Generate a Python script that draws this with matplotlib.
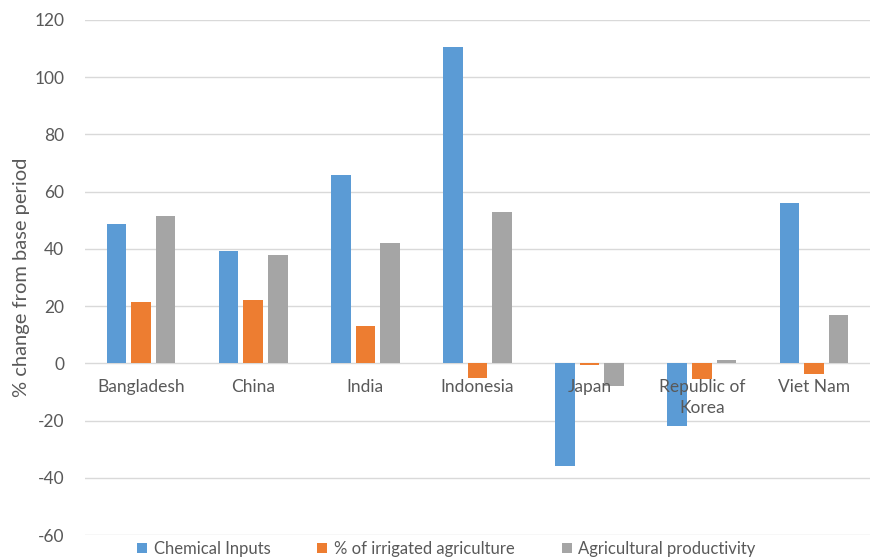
import matplotlib
matplotlib.use("Agg")
import matplotlib.pyplot as plt
from matplotlib.patches import Patch
import numpy as np

plt.rcParams['font.family'] = ['Lato', 'DejaVu Sans']

countries = ["Bangladesh", "China", "India", "Indonesia", "Japan", "Republic of\nKorea", "Viet Nam"]
chemical_inputs = [48.6, 39.2, 66.0, 110.5, -36.0, -22.0, 56.0]
irrigated_share = [21.6, 22.0, 13.0, -5.3, -0.7, -5.6, -3.6]
agri_productivity = [51.4, 37.8, 42.0, 53.0, -8.0, 1.0, 16.8]
series_names = ["Chemical Inputs", "% of irrigated agriculture", "Agricultural productivity"]
y_ticks = [-60, -40, -20, 0, 20, 40, 60, 80, 100, 120]

colors = ["#5B9BD5", "#ED7D31", "#A5A5A5"]
text_color = "#595959"
grid_color = "#D9D9D9"

fig = plt.figure(figsize=(8.72, 5.59), dpi=100)
ax = fig.add_axes([85 / 872, 1 - 535 / 559, 785 / 872, (535 - 20) / 559])

x = np.arange(len(countries))
bar_w = 0.174
pitch = 0.219
for k, (vals, col) in enumerate(zip([chemical_inputs, irrigated_share, agri_productivity], colors)):
    ax.bar(x + (k - 1) * pitch, vals, width=bar_w, color=col, zorder=3)

ax.set_xlim(-0.5, len(countries) - 0.5)
ax.set_ylim(-60, 120)
ax.set_yticks(y_ticks)
ax.set_yticklabels([str(t) for t in y_ticks], fontsize=12.5, color=text_color)
ax.tick_params(axis='y', length=0, pad=15)
ax.set_xticks([])
ax.grid(axis='y', color=grid_color, linewidth=1, zorder=0)
for s in ax.spines.values():
    s.set_visible(False)

# category labels sit just below the zero line
for xi, name in zip(x, countries):
    ax.annotate(name, (xi, 0), xytext=(0, -11), textcoords='offset points',
                ha='center', va='top', fontsize=12.5, color=text_color,
                linespacing=1.45, zorder=4)

ax.set_ylabel("% change from base period", fontsize=14.5, color=text_color)
ax.yaxis.set_label_coords(-55 / 785, 0.5)

handles = [Patch(facecolor=c, edgecolor='none') for c in colors]
fig.legend(handles, series_names, loc='center', bbox_to_anchor=(0.512, 1 - 549 / 559),
           ncol=3, frameon=False, fontsize=12, labelcolor=text_color,
           handlelength=0.6, handleheight=0.6, handletextpad=0.4, columnspacing=2.8)

fig.savefig("out.png", dpi=100)
